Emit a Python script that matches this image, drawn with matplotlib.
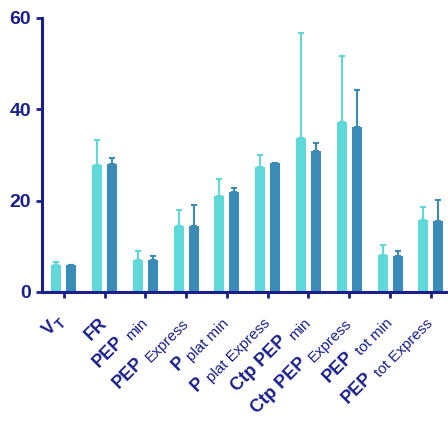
import matplotlib
matplotlib.use("Agg")
import matplotlib.pyplot as plt
from matplotlib.transforms import offset_copy
import numpy as np

# ========================= data ========================= #
label_main = ['V', 'FR', 'PEP', 'PEP', 'P', 'P', 'Ctp PEP', 'Ctp PEP', 'PEP', 'PEP']
label_sub = ['T', '', 'min', 'Express', 'plat min', 'plat Express',
             'min', 'Express', 'tot min', 'tot Express']

light_mean = [5.9, 27.8, 7.0, 14.5, 21.1, 27.4, 33.6, 37.1, 8.2, 15.8]
light_err = [0.7, 5.5, 2.0, 3.4, 3.7, 2.6, 23.0, 14.5, 2.0, 2.9]
dark_mean = [5.9, 28.1, 7.0, 14.5, 21.9, 28.3, 30.8, 36.1, 7.9, 15.6]
dark_err = [0.0, 1.3, 0.9, 4.6, 0.9, 0.0, 1.8, 8.2, 1.0, 4.6]

# ======================================================== #
navy = '#1a1f8c'
light_col = '#5fd8da'
dark_col = '#3a8cb6'

plt.rcParams['font.family'] = ['Liberation Sans', 'DejaVu Sans']

fig = plt.figure(figsize=(4.48, 4.25), dpi=100)
ax = fig.add_axes([0.094, 0.313, 0.906, 0.645])

x = np.arange(len(label_main))
w = 0.245
off = 0.185

ax.bar(x - off, light_mean, w, color=light_col, zorder=2)
ax.bar(x + off, dark_mean, w, color=dark_col, zorder=2)
ax.errorbar(x - off, light_mean, yerr=[np.zeros(len(x)), light_err], fmt='none',
            ecolor=light_col, elinewidth=1.5, capsize=2.5, capthick=1.5, zorder=1)
ax.errorbar(x + off, dark_mean, yerr=[np.zeros(len(x)), dark_err], fmt='none',
            ecolor=dark_col, elinewidth=1.5, capsize=2.5, capthick=1.5, zorder=1)

ax.set_xlim(-0.53, 9.42)
ax.set_ylim(0, 60)
ax.set_yticks([0, 20, 40, 60])
ax.set_xticks(x)
ax.set_xticklabels([])

for s in ['top', 'right']:
    ax.spines[s].set_visible(False)
for s in ['left', 'bottom']:
    ax.spines[s].set_color(navy)
    ax.spines[s].set_linewidth(2.2)

ax.tick_params(axis='both', colors=navy, width=2, length=4.5)
for t in ax.get_yticklabels():
    t.set_fontsize(14)
    t.set_fontweight('bold')
    t.set_color(navy)

# rotated labels: bold main text + smaller subscript, laid out by hand
renderer = fig.canvas.get_renderer()
d = np.array([np.cos(np.pi / 4), np.sin(np.pi / 4)])   # along the baseline
u = np.array([-d[1], d[0]])                            # up from the baseline
gap = 5
drop = 4

for xi, (main, sub) in enumerate(zip(label_main, label_sub)):
    end = np.array([3.0, -32.0])   # pixel offset of label end from the tick
    if sub:
        sub_weight = 'bold' if main == 'V' else 'normal'
        sub_size = 10 if main == 'V' else 11
        ts = ax.text(xi, 0, sub, fontsize=sub_size, color=navy, fontweight=sub_weight,
                     ha='right', va='baseline', clip_on=False)
        ws = ts.get_window_extent(renderer).width
        ts.set_rotation(45)
        ts.set_rotation_mode('anchor')
        ts.set_transform(offset_copy(ax.transData, fig=fig, x=end[0], y=end[1], units='dots'))
        g = 1 if main == 'V' else gap
        end = end - (ws + g) * d + drop * u
    tm = ax.text(xi, 0, main, fontsize=13, color=navy, fontweight='bold',
                 ha='right', va='baseline', rotation=45, rotation_mode='anchor',
                 clip_on=False,
                 transform=offset_copy(ax.transData, fig=fig, x=end[0], y=end[1], units='dots'))

fig.savefig('out.png', dpi=100)
